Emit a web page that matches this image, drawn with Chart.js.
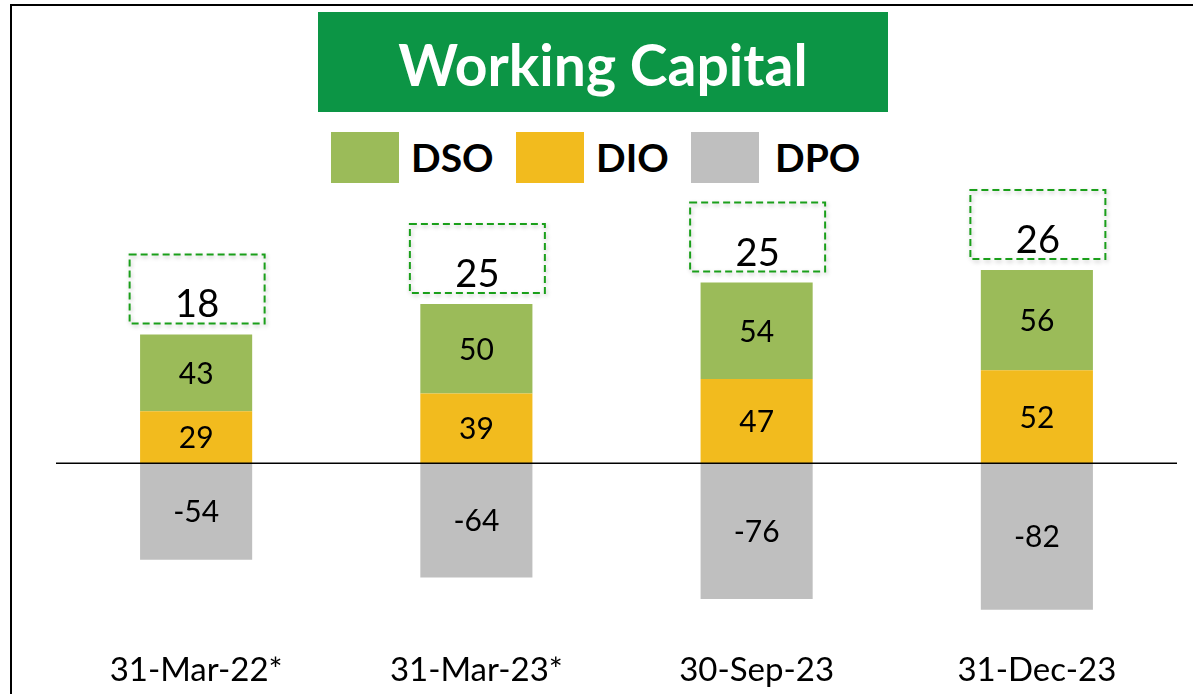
<!DOCTYPE html>
<html>
<head>
<meta charset="utf-8">
<title>Working Capital</title>
<script src="https://cdn.jsdelivr.net/npm/chart.js@4.4.1/dist/chart.umd.min.js"></script>
<style>
    body { margin: 0; background: #fff; }
    #wrap { position: relative; width: 1193px; height: 694px; overflow: hidden; font-family: Lato, "Open Sans", sans-serif; }
    #frame { position: absolute; left: 10px; top: 4px; width: 1300px; height: 800px; border-left: 2px solid #000; border-top: 2px solid #000; }
    #title { position: absolute; left: 318px; top: 12px; width: 570px; height: 100px; background: #0C9545; color: #fff;
             font-weight: bold; font-size: 57px; display: flex; align-items: center; justify-content: center; padding-top: 3px; box-sizing: border-box; }
    .swatch { position: absolute; top: 132px; width: 68px; height: 51px; }
    .label { position: absolute; top: 134px; font-weight: bold; font-size: 39px; line-height: 47px; color: #000; }
    canvas { position: absolute; left: 0; top: 0; }
</style>
</head>
<body>
<div id="wrap">
    <div id="frame"></div>
    <div id="title">Working Capital</div>
    <div class="swatch" style="left:331px;background:#9BBB59"></div>
    <div class="label" style="left:411px">DSO</div>
    <div class="swatch" style="left:516px;background:#F2BB1E"></div>
    <div class="label" style="left:596px">DIO</div>
    <div class="swatch" style="left:691px;background:#BFBFBF"></div>
    <div class="label" style="left:775px">DPO</div>
    <canvas id="wcChart" width="1193" height="694"></canvas>
</div>
<script>
const categories = ["31-Mar-22*", "31-Mar-23*", "30-Sep-23", "31-Dec-23"];
const dsoValues = [43, 50, 54, 56];
const dioValues = [29, 39, 47, 52];
const dpoValues = [-54, -64, -76, -82];
const netValues = [18, 25, 25, 26]; // shown in the dashed boxes

const FONT = "Lato, 'Open Sans', sans-serif";

// numbers inside each bar segment
const segmentLabels = {
    id: "segmentLabels",
    afterDatasetsDraw(chart) {
        const ctx = chart.ctx;
        ctx.save();
        ctx.fillStyle = "#000";
        ctx.textAlign = "center";
        ctx.textBaseline = "alphabetic";
        ctx.font = "30px " + FONT;
        chart.data.datasets.forEach((ds, i) => {
            chart.getDatasetMeta(i).data.forEach((bar, j) => {
                const mid = (bar.y + bar.base) / 2;
                ctx.fillText(ds.data[j], bar.x, mid + 11);
            });
        });
        ctx.restore();
    }
};

// zero line + dashed total boxes
const totalsAndZero = {
    id: "totalsAndZero",
    afterDatasetsDraw(chart) {
        const ctx = chart.ctx;
        const area = chart.chartArea;
        const y0 = chart.scales.y.getPixelForValue(0);
        ctx.save();
        ctx.strokeStyle = "#000";
        ctx.lineWidth = 1.5;
        ctx.beginPath();
        ctx.moveTo(area.left, y0);
        ctx.lineTo(area.right, y0);
        ctx.stroke();

        const topMeta = chart.getDatasetMeta(1); // DSO sits on top
        topMeta.data.forEach((bar, j) => {
            const w = 135, h = 69;
            const left = bar.x - w / 2 + 1;
            const top = bar.y - 11 - h;
            ctx.save();
            ctx.shadowColor = "rgba(0,0,0,0.25)";
            ctx.shadowBlur = 4;
            ctx.shadowOffsetX = 1;
            ctx.shadowOffsetY = 2;
            ctx.setLineDash([7, 4]);
            ctx.lineWidth = 2;
            ctx.strokeStyle = "#1A9F1A";
            ctx.strokeRect(left, top, w, h);
            ctx.restore();
            ctx.fillStyle = "#000";
            ctx.textAlign = "center";
            ctx.textBaseline = "alphabetic";
            ctx.font = "38px " + FONT;
            ctx.fillText(netValues[j], bar.x + 1, top + h / 2 + 15 + 13.5);
        });
        ctx.restore();
    }
};

new Chart(document.getElementById("wcChart"), {
    type: "bar",
    data: {
        labels: categories,
        datasets: [
            { label: "DIO", data: dioValues, backgroundColor: "#F2BB1E" },
            { label: "DSO", data: dsoValues, backgroundColor: "#9BBB59" },
            { label: "DPO", data: dpoValues, backgroundColor: "#BFBFBF" }
        ]
    },
    options: {
        responsive: false,
        animation: false,
        devicePixelRatio: 1,
        layout: { padding: { top: 177, left: 56, right: 16, bottom: 0 } },
        datasets: { bar: { categoryPercentage: 1, barPercentage: 0.4 } },
        scales: {
            x: {
                stacked: true,
                grid: { display: false },
                border: { display: false },
                ticks: { color: "#000", font: { family: FONT, size: 33 }, padding: 1 },
                afterFit(scale) { scale.height = 52; }
            },
            y: {
                stacked: true,
                display: false,
                min: -100,
                max: 160
            }
        },
        plugins: {
            legend: { display: false },
            tooltip: { enabled: false }
        }
    },
    plugins: [segmentLabels, totalsAndZero]
});
</script>
</body>
</html>
